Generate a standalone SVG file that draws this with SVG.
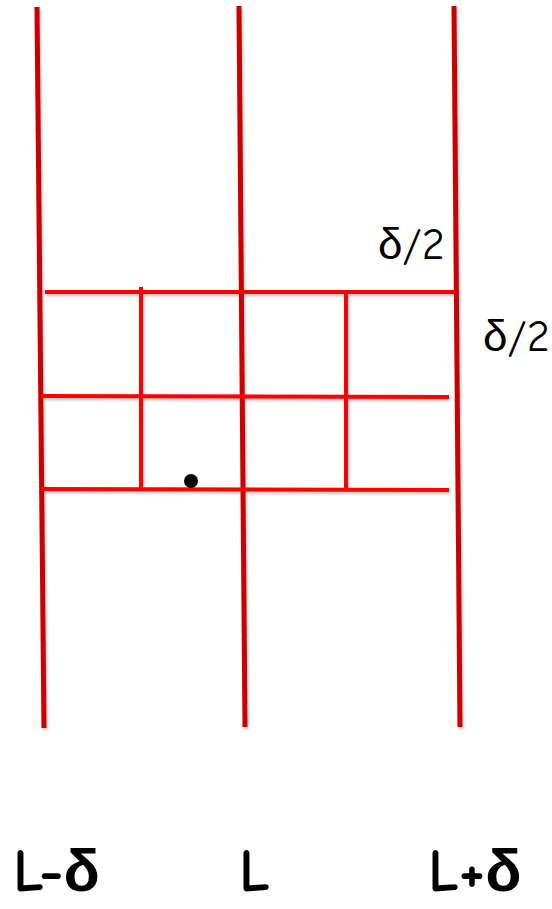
<svg xmlns="http://www.w3.org/2000/svg" width="552" height="909" viewBox="0 0 552 909">
<defs>
<filter id="sh" x="-20%" y="-5%" width="140%" height="110%">
<feDropShadow dx="1" dy="2" stdDeviation="1.5" flood-color="#000" flood-opacity="0.25"/>
</filter>
<style>
.long{stroke:#cc0000;stroke-width:5;fill:none}
.grid{stroke:#ff0000;stroke-width:4;fill:none}
.lbl{font-family:"Comic Neue","Liberation Sans","DejaVu Sans",sans-serif;fill:#000}
</style>
</defs>
<rect width="552" height="909" fill="#fff"/>
<g id="lines" filter="url(#sh)">
<line class="long" x1="37" y1="7" x2="44" y2="728"/>
<line class="long" x1="239" y1="6" x2="245" y2="727"/>
<line class="long" x1="454" y1="6" x2="460" y2="727"/>
<line class="grid" x1="45" y1="292" x2="455" y2="292"/>
<line class="grid" x1="41" y1="396" x2="449" y2="397"/>
<line class="grid" x1="41" y1="489" x2="449" y2="490"/>
<line class="grid" x1="141" y1="287" x2="141" y2="490"/>
<line class="grid" x1="346" y1="294" x2="346" y2="490"/>
</g>
<g id="dot"><circle cx="191" cy="481" r="7" fill="#000"/></g>
<g id="labels">
<text class="lbl" x="378" y="259" font-size="44">δ/2</text>
<text class="lbl" x="483" y="351" font-size="44">δ/2</text>
<text class="lbl" x="13" y="891" font-size="60" font-weight="bold">L-δ</text>
<text class="lbl" x="239" y="891" font-size="60" font-weight="bold">L</text>
<text class="lbl" x="428" y="891" font-size="60" font-weight="bold">L+δ</text>
</g>
</svg>
